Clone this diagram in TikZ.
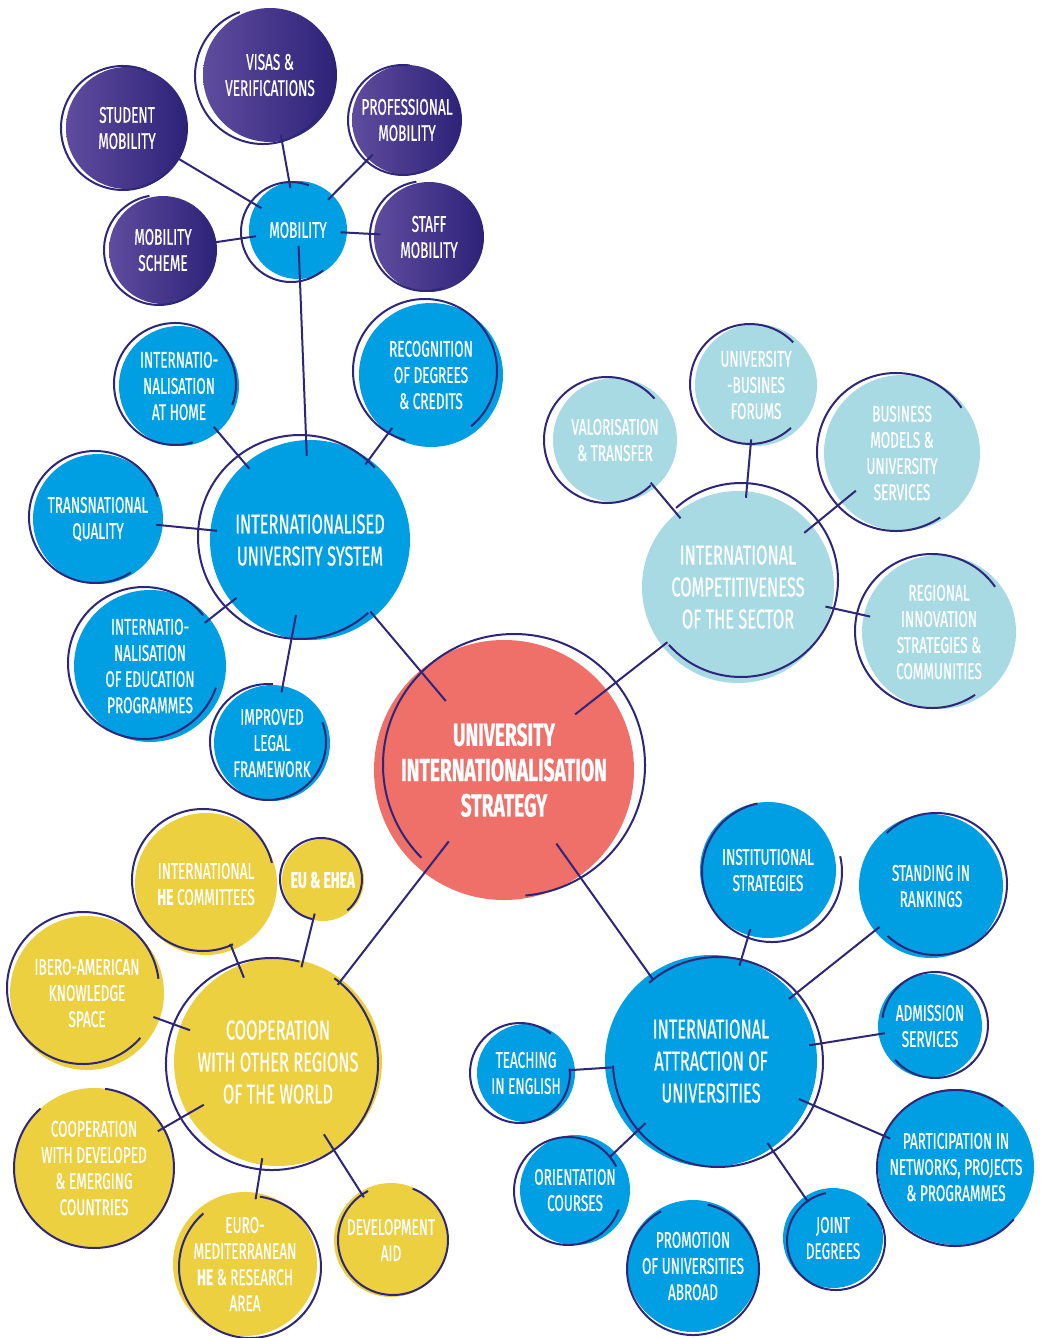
\documentclass[tikz,border=0pt]{standalone}
\usepackage{fontspec}
\setmainfont[FakeStretch=0.6,FakeBold=0.6]{Fira Sans}
\definecolor{ringc}{RGB}{46,38,120}
\definecolor{pl}{RGB}{95,76,158}
\definecolor{pd}{RGB}{45,34,120}
\definecolor{bl}{RGB}{0,158,226}
\definecolor{lb}{RGB}{168,218,228}
\definecolor{ye}{RGB}{237,208,64}
\definecolor{co}{RGB}{239,111,105}
\newcommand\ring[6]{%
  \pgfmathsetmacro\rr{#4*0.75}%
  \draw[ringline] ([shift={(#2,#3)}]#1.center) ++(#5:\rr pt) arc[start angle=#5,end angle=#6,radius=\rr pt];}
\tikzset{
  bub/.style={circle,minimum size={#1*1.5pt},inner sep=0pt,align=center,text=white,
    font=\fontsize{17}{19.6}\selectfont},
  bigt/.style={font=\fontsize{20.5}{24}\selectfont},
  purp/.style={left color=pl,right color=pd},
  ringline/.style={draw=ringc,line width=1.5pt},
  conn/.style={draw=ringc,line width=1.5pt,shorten <=-5pt,shorten >=-5pt},
}
\begin{document}
\begin{tikzpicture}[x=0.75pt,y=-0.75pt]
\useasboundingbox (0,0) rectangle (1044,1338);
% ---------- mobility group
\node[bub=61,purp] (stud) at (127,128) {STUDENT\\MOBILITY};
\node[bub=67,purp] (visas) at (270,75) {VISAS \&\\VERIFICATIONS};
\node[bub=55,purp] (prof) at (407,120) {PROFESSIONAL\\MOBILITY};
\node[bub=54,purp] (scheme) at (163,250) {MOBILITY\\SCHEME};
\node[bub=55,purp] (staff) at (429,237) {STAFF\\MOBILITY};
\node[bub=49,fill=bl] (mob) at (298,230) {MOBILITY};
% ---------- internationalised system
\node[bub=100,fill=bl,bigt] (intsys) at (310,540) {INTERNATIONALISED\\UNIVERSITY SYSTEM};
\node[bub=60,fill=bl] (home) at (179,386) {INTERNATIO-\\NALISATION\\AT HOME};
\node[bub=72,fill=bl] (recog) at (431,375) {RECOGNITION\\OF DEGREES\\\& CREDITS};
\node[bub=65,fill=bl] (trans) at (98,519) {TRANSNATIONAL\\QUALITY};
\node[bub=76,fill=bl] (edu) at (150,666) {INTERNATIO-\\NALISATION\\OF EDUCATION\\PROGRAMMES};
\node[bub=58,fill=bl] (impr) at (272,743) {IMPROVED\\LEGAL\\FRAMEWORK};
% ---------- central
\node[bub=130,fill=co,font=\fontsize{24}{26.5}\selectfont\bfseries] (central) at (504,770) {UNIVERSITY\\INTERNATIONALISATION\\STRATEGY};
% ---------- competitiveness
\node[bub=96,fill=lb,bigt] (compet) at (738,587) {INTERNATIONAL\\COMPETITIVENESS\\OF THE SECTOR};
\node[bub=62,fill=lb] (valor) at (615,440) {VALORISATION\\\& TRANSFER};
\node[bub=61,fill=lb] (ubf) at (756,385) {UNIVERSITY\\-BUSINES\\FORUMS};
\node[bub=78,fill=lb] (bmod) at (902,453) {BUSINESS\\MODELS \&\\UNIVERSITY\\SERVICES};
\node[bub=77,fill=lb] (reg) at (939,632) {REGIONAL\\INNOVATION\\STRATEGIES \&\\COMMUNITIES};
% ---------- cooperation
\node[bub=104,fill=ye,bigt] (coop) at (278,1062) {COOPERATION\\WITH OTHER REGIONS\\OF THE WORLD};
\node[bub=71,fill=ye] (hecomm) at (206,884) {INTERNATIONAL\\\textbf{HE} COMMITTEES};
\node[bub=41,fill=ye] (euehea) at (323,880) {\textbf{EU \& EHEA}};
\node[bub=77,fill=ye] (ibero) at (87,993) {IBERO-AMERICAN\\KNOWLEDGE\\SPACE};
\node[bub=80,fill=ye] (coopdev) at (94,1168) {COOPERATION\\WITH DEVELOPED\\\& EMERGING\\COUNTRIES};
\node[bub=72,fill=ye] (euromed) at (245,1264) {EURO-\\MEDITERRANEAN\\\textbf{HE} \& RESEARCH\\AREA};
\node[bub=57,fill=ye] (devaid) at (391,1240) {DEVELOPMENT\\AID};
% ---------- attraction
\node[bub=106,fill=bl,bigt] (attr) at (711,1061) {INTERNATIONAL\\ATTRACTION OF\\UNIVERSITIES};
\node[bub=68,fill=bl] (inst) at (768,870) {INSTITUTIONAL\\STRATEGIES};
\node[bub=72,fill=bl] (stand) at (931,886) {STANDING IN\\RANKINGS};
\node[bub=52,fill=bl] (adm) at (930,1026) {ADMISSION\\SERVICES};
\node[bub=49,fill=bl] (teach) at (526,1073) {TEACHING\\IN ENGLISH};
\node[bub=55,fill=bl] (orient) at (575,1190) {ORIENTATION\\COURSES};
\node[bub=66,fill=bl] (promo) at (693,1266) {PROMOTION\\OF UNIVERSITIES\\ABROAD};
\node[bub=50,fill=bl] (joint) at (833,1238) {JOINT\\DEGREES};
\node[bub=78,fill=bl] (part) at (956,1167) {PARTICIPATION IN\\NETWORKS, PROJECTS\\\& PROGRAMMES};
% ---------- rings
\ring{stud}{-4}{0}{62}{68}{319}
\ring{visas}{-7}{1}{68}{110}{340}
\ring{prof}{-4}{0}{55}{83}{296}
\ring{scheme}{-4}{0}{55}{100}{318}
\ring{staff}{-4}{-1}{55}{99}{289}
\ring{mob}{-7}{2}{50}{69}{310}
\ring{intsys}{-10}{-3}{102}{43}{312}
\ring{home}{-4}{-2}{61}{-20}{287}
\ring{recog}{-6}{-4}{72}{-50}{254}
\ring{trans}{-3}{-2}{66}{18}{303}
\ring{edu}{-6}{-3}{76}{39}{341}
\ring{impr}{-4}{-1}{58}{85}{380}
\ring{central}{10}{-5}{131}{-85}{225}
\ring{compet}{3}{-7}{97}{222}{492}
\ring{valor}{-8}{0}{63}{41}{314}
\ring{ubf}{-6}{-1}{60}{44}{313}
\ring{bmod}{-6}{-1}{79}{34}{304}
\ring{reg}{-7}{-1}{77}{35}{304}
\ring{coop}{-6}{2}{106}{75}{414}
\ring{hecomm}{-3}{-4}{71}{14}{295}
\ring{euehea}{-2}{-1}{41}{-50}{258}
\ring{ibero}{-4}{-5}{76}{7}{319}
\ring{coopdev}{0}{0}{80}{132}{442}
\ring{euromed}{5}{3}{71}{131}{442}
\ring{devaid}{2}{0}{55}{117}{429}
\ring{attr}{7}{1}{105}{182}{491}
\ring{inst}{4}{2}{70}{102}{373}
\ring{stand}{5}{-2}{71}{-133}{134}
\ring{adm}{5}{-1}{53}{221}{532}
\ring{teach}{-6}{0}{50}{52}{365}
\ring{orient}{-7}{1}{54}{27}{340}
\ring{promo}{0}{3}{66}{119}{437}
\ring{joint}{3}{3}{49}{102}{410}
\ring{part}{-1}{1}{78}{52}{319}
% ---------- connectors
\draw[conn] (mob) -- (stud);
\draw[conn] (mob) -- (visas);
\draw[conn] (mob) -- (prof);
\draw[conn] (mob) -- (scheme);
\draw[conn] (mob) -- (staff);
\draw[conn,shorten <=-25pt,shorten >=-12pt] (mob) -- (intsys);
\draw[conn] (intsys) -- (home);
\draw[conn] (intsys) -- (recog);
\draw[conn] (intsys) -- (trans);
\draw[conn] (intsys) -- (edu);
\draw[conn,shorten <=-18pt] (intsys) -- (impr);
\draw[conn,shorten >=-30pt] (intsys) -- (central);
\draw[conn,shorten <=-30pt] (central) -- (compet);
\draw[conn,shorten <=-30pt] (central) -- (coop);
\draw[conn,shorten <=-30pt] (central) -- (attr);
\draw[conn] (compet) -- (valor);
\draw[conn] (compet) -- (ubf);
\draw[conn,shorten <=-8pt,shorten >=-14pt] (compet) -- (bmod);
\draw[conn] (compet) -- (reg);
\draw[conn,shorten <=-10pt] (coop) -- (hecomm);
\draw[conn] (coop) -- (euehea);
\draw[conn,shorten <=-8pt] (coop) -- (ibero);
\draw[conn,shorten <=-14pt] (coop) -- (coopdev);
\draw[conn] (coop) -- (euromed);
\draw[conn,shorten <=-14pt] (coop) -- (devaid);
\draw[conn] (attr) -- (inst);
\draw[conn] (attr) -- (stand);
\draw[conn] (attr) -- (adm);
\draw[conn] (attr) -- (teach);
\draw[conn,shorten <=-12pt] (attr) -- (orient);
\draw[conn,shorten <=-8pt] (attr) -- (part);
\draw[conn] (attr) -- (joint);
\end{tikzpicture}
\end{document}
